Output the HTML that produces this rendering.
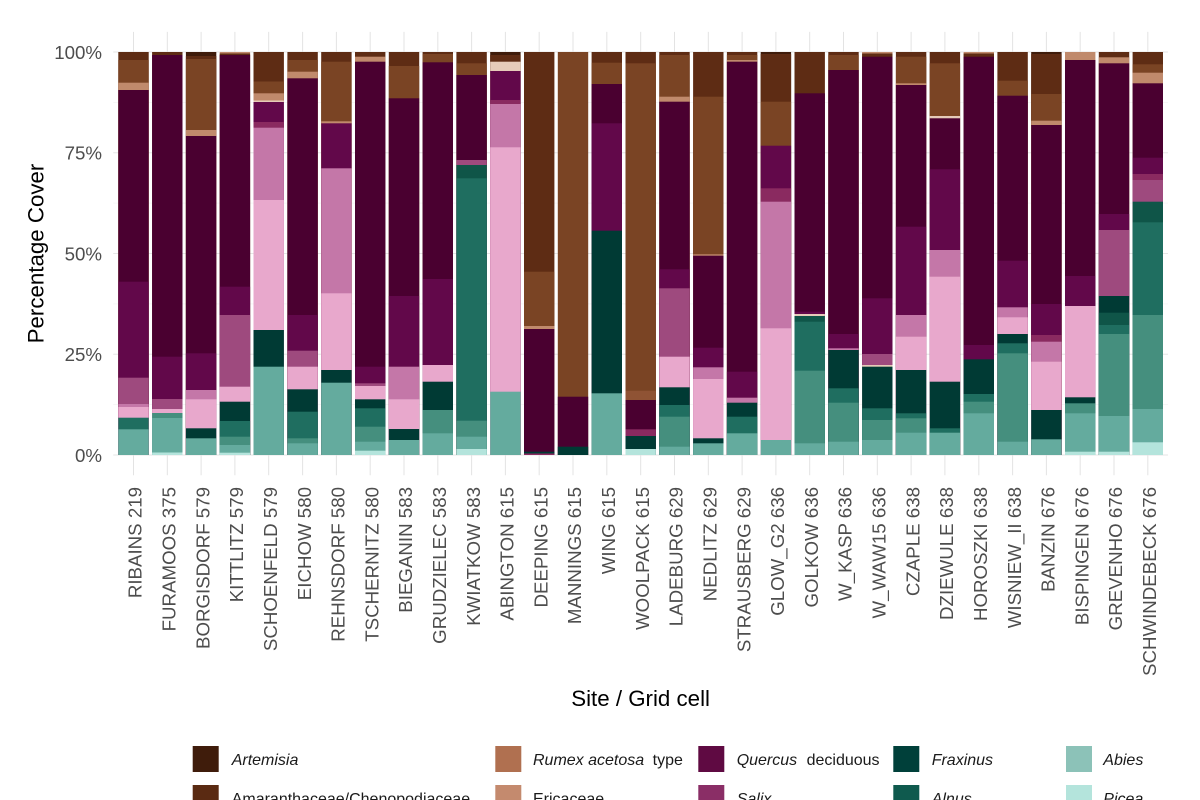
<!DOCTYPE html>
<html>
<head>
<meta charset="utf-8">
<style>
html,body{margin:0;padding:0;background:#fff;width:1200px;height:800px;overflow:hidden;}
svg{display:block;font-family:"Liberation Sans",Arial,sans-serif;}
.a{fill:#3f1c0b}.b{fill:#5e2c14}.c{fill:#7a4424}.d{fill:#8f5334}.e{fill:#c08a6c}.f{fill:#e6cbb9}
.p{fill:#4a0030}.q{fill:#62084a}.s{fill:#8a2a60}.m{fill:#9e4a7e}.k{fill:#c477a8}.l{fill:#e8a8cc}
.t{fill:#003a34}.u{fill:#0f5548}.v{fill:#1f6e60}.w{fill:#458f7e}.x{fill:#64ab9e}.z{fill:#b4e4dc}
.tk{font-size:18.7px;fill:#4d4d4d;}
.ttl{font-size:22.3px;fill:#000;}
.lg{font-size:16px;fill:#1a1a1a;}
.it{font-style:italic;}
</style>
</head>
<body>
<svg width="1200" height="800" viewBox="0 0 1200 800" xmlns="http://www.w3.org/2000/svg">
<defs><clipPath id="pc"><rect x="0" y="52" width="1200" height="403"/></clipPath>
<clipPath id="lc"><rect x="0" y="776" width="1200" height="24"/></clipPath></defs>
<rect x="0" y="0" width="1200" height="800" fill="#fff"/>
<!-- gridlines -->
<g stroke="#e6e6e6" stroke-width="1">
<line x1="113.2" x2="1168" y1="52" y2="52"/><line x1="113.2" x2="1168" y1="152.75" y2="152.75"/><line x1="113.2" x2="1168" y1="253.5" y2="253.5"/><line x1="113.2" x2="1168" y1="354.25" y2="354.25"/><line x1="113.2" x2="1168" y1="455" y2="455"/>
</g>
<g stroke="#f1f1f1" stroke-width="0.6">
<line x1="113.2" x2="1168" y1="102.4" y2="102.4"/><line x1="113.2" x2="1168" y1="203.1" y2="203.1"/><line x1="113.2" x2="1168" y1="303.9" y2="303.9"/><line x1="113.2" x2="1168" y1="404.6" y2="404.6"/>
</g>
<g stroke="#e3e3e3" stroke-width="1">
<line x1="133.5" x2="133.5" y1="31.9" y2="475.2"/><line x1="167.3" x2="167.3" y1="31.9" y2="475.2"/><line x1="201.1" x2="201.1" y1="31.9" y2="475.2"/><line x1="234.9" x2="234.9" y1="31.9" y2="475.2"/><line x1="268.7" x2="268.7" y1="31.9" y2="475.2"/><line x1="302.6" x2="302.6" y1="31.9" y2="475.2"/><line x1="336.4" x2="336.4" y1="31.9" y2="475.2"/><line x1="370.2" x2="370.2" y1="31.9" y2="475.2"/><line x1="404" x2="404" y1="31.9" y2="475.2"/><line x1="437.8" x2="437.8" y1="31.9" y2="475.2"/><line x1="471.6" x2="471.6" y1="31.9" y2="475.2"/><line x1="505.4" x2="505.4" y1="31.9" y2="475.2"/><line x1="539.2" x2="539.2" y1="31.9" y2="475.2"/><line x1="573" x2="573" y1="31.9" y2="475.2"/><line x1="606.8" x2="606.8" y1="31.9" y2="475.2"/><line x1="640.7" x2="640.7" y1="31.9" y2="475.2"/><line x1="674.5" x2="674.5" y1="31.9" y2="475.2"/><line x1="708.3" x2="708.3" y1="31.9" y2="475.2"/><line x1="742.1" x2="742.1" y1="31.9" y2="475.2"/><line x1="775.9" x2="775.9" y1="31.9" y2="475.2"/><line x1="809.7" x2="809.7" y1="31.9" y2="475.2"/><line x1="843.5" x2="843.5" y1="31.9" y2="475.2"/><line x1="877.3" x2="877.3" y1="31.9" y2="475.2"/><line x1="911.1" x2="911.1" y1="31.9" y2="475.2"/><line x1="944.9" x2="944.9" y1="31.9" y2="475.2"/><line x1="978.8" x2="978.8" y1="31.9" y2="475.2"/><line x1="1012.6" x2="1012.6" y1="31.9" y2="475.2"/><line x1="1046.4" x2="1046.4" y1="31.9" y2="475.2"/><line x1="1080.2" x2="1080.2" y1="31.9" y2="475.2"/><line x1="1114" x2="1114" y1="31.9" y2="475.2"/><line x1="1147.8" x2="1147.8" y1="31.9" y2="475.2"/>
</g>

<!-- bars -->
<g clip-path="url(#pc)">
<g transform="translate(118.3 0)"><rect y="52" width="30.4" height="403" class="b"/><rect y="60" width="30.4" height="403" class="c"/><rect y="82.7" width="30.4" height="403" class="e"/><rect y="90" width="30.4" height="403" class="p"/><rect y="281.7" width="30.4" height="403" class="q"/><rect y="377.7" width="30.4" height="403" class="m"/><rect y="404" width="30.4" height="403" class="k"/><rect y="407" width="30.4" height="403" class="l"/><rect y="417.7" width="30.4" height="403" class="v"/><rect y="429.3" width="30.4" height="403" class="x"/></g>
<g transform="translate(152.1 0)"><rect y="52" width="30.4" height="403" class="b"/><rect y="55" width="30.4" height="403" class="p"/><rect y="356.7" width="30.4" height="403" class="q"/><rect y="399" width="30.4" height="403" class="m"/><rect y="409" width="30.4" height="403" class="l"/><rect y="413" width="30.4" height="403" class="w"/><rect y="418" width="30.4" height="403" class="x"/><rect y="452.5" width="30.4" height="403" class="z"/></g>
<g transform="translate(185.9 0)"><rect y="52" width="30.4" height="403" class="a"/><rect y="56" width="30.4" height="403" class="b"/><rect y="59" width="30.4" height="403" class="c"/><rect y="130" width="30.4" height="403" class="e"/><rect y="136" width="30.4" height="403" class="p"/><rect y="353.3" width="30.4" height="403" class="q"/><rect y="390" width="30.4" height="403" class="k"/><rect y="399.3" width="30.4" height="403" class="l"/><rect y="428.3" width="30.4" height="403" class="t"/><rect y="438.3" width="30.4" height="403" class="x"/></g>
<g transform="translate(219.7 0)"><rect y="52" width="30.4" height="403" class="e"/><rect y="53.5" width="30.4" height="403" class="b"/><rect y="55" width="30.4" height="403" class="p"/><rect y="286.7" width="30.4" height="403" class="q"/><rect y="315" width="30.4" height="403" class="m"/><rect y="386.7" width="30.4" height="403" class="l"/><rect y="401.7" width="30.4" height="403" class="t"/><rect y="421" width="30.4" height="403" class="v"/><rect y="436.7" width="30.4" height="403" class="w"/><rect y="445" width="30.4" height="403" class="x"/><rect y="452.7" width="30.4" height="403" class="z"/></g>
<g transform="translate(253.5 0)"><rect y="52" width="30.4" height="403" class="b"/><rect y="81.5" width="30.4" height="403" class="c"/><rect y="93.3" width="30.4" height="403" class="e"/><rect y="100.5" width="30.4" height="403" class="f"/><rect y="102" width="30.4" height="403" class="q"/><rect y="122" width="30.4" height="403" class="s"/><rect y="127.7" width="30.4" height="403" class="k"/><rect y="200" width="30.4" height="403" class="l"/><rect y="330" width="30.4" height="403" class="t"/><rect y="366.7" width="30.4" height="403" class="x"/></g>
<g transform="translate(287.4 0)"><rect y="52" width="30.4" height="403" class="b"/><rect y="60" width="30.4" height="403" class="c"/><rect y="71.7" width="30.4" height="403" class="e"/><rect y="78.3" width="30.4" height="403" class="p"/><rect y="315" width="30.4" height="403" class="q"/><rect y="350.7" width="30.4" height="403" class="m"/><rect y="366.7" width="30.4" height="403" class="l"/><rect y="389.3" width="30.4" height="403" class="t"/><rect y="411.7" width="30.4" height="403" class="v"/><rect y="438.3" width="30.4" height="403" class="w"/><rect y="443.3" width="30.4" height="403" class="x"/></g>
<g transform="translate(321.2 0)"><rect y="52" width="30.4" height="403" class="b"/><rect y="61.7" width="30.4" height="403" class="c"/><rect y="121.3" width="30.4" height="403" class="e"/><rect y="123.3" width="30.4" height="403" class="q"/><rect y="168.3" width="30.4" height="403" class="k"/><rect y="293.3" width="30.4" height="403" class="l"/><rect y="370" width="30.4" height="403" class="t"/><rect y="382.7" width="30.4" height="403" class="x"/></g>
<g transform="translate(355 0)"><rect y="52" width="30.4" height="403" class="b"/><rect y="56.7" width="30.4" height="403" class="e"/><rect y="61.7" width="30.4" height="403" class="p"/><rect y="366.7" width="30.4" height="403" class="q"/><rect y="383.3" width="30.4" height="403" class="m"/><rect y="386" width="30.4" height="403" class="l"/><rect y="399.3" width="30.4" height="403" class="t"/><rect y="408.3" width="30.4" height="403" class="v"/><rect y="426.7" width="30.4" height="403" class="w"/><rect y="441.7" width="30.4" height="403" class="x"/><rect y="450.7" width="30.4" height="403" class="z"/></g>
<g transform="translate(388.8 0)"><rect y="52" width="30.4" height="403" class="b"/><rect y="66" width="30.4" height="403" class="c"/><rect y="98.3" width="30.4" height="403" class="p"/><rect y="296" width="30.4" height="403" class="q"/><rect y="366.7" width="30.4" height="403" class="k"/><rect y="399.3" width="30.4" height="403" class="l"/><rect y="429" width="30.4" height="403" class="t"/><rect y="440" width="30.4" height="403" class="x"/></g>
<g transform="translate(422.6 0)"><rect y="52" width="30.4" height="403" class="b"/><rect y="54" width="30.4" height="403" class="c"/><rect y="62.3" width="30.4" height="403" class="p"/><rect y="279" width="30.4" height="403" class="q"/><rect y="365" width="30.4" height="403" class="l"/><rect y="381.7" width="30.4" height="403" class="t"/><rect y="410" width="30.4" height="403" class="w"/><rect y="433.3" width="30.4" height="403" class="x"/></g>
<g transform="translate(456.4 0)"><rect y="52" width="30.4" height="403" class="b"/><rect y="63.3" width="30.4" height="403" class="c"/><rect y="75" width="30.4" height="403" class="p"/><rect y="160" width="30.4" height="403" class="m"/><rect y="165" width="30.4" height="403" class="u"/><rect y="178.3" width="30.4" height="403" class="v"/><rect y="420.7" width="30.4" height="403" class="w"/><rect y="436.7" width="30.4" height="403" class="x"/><rect y="449" width="30.4" height="403" class="z"/></g>
<g transform="translate(490.2 0)"><rect y="52" width="30.4" height="403" class="a"/><rect y="55" width="30.4" height="403" class="b"/><rect y="61.7" width="30.4" height="403" class="f"/><rect y="71" width="30.4" height="403" class="q"/><rect y="100" width="30.4" height="403" class="s"/><rect y="104" width="30.4" height="403" class="k"/><rect y="147.3" width="30.4" height="403" class="l"/><rect y="391.7" width="30.4" height="403" class="x"/></g>
<g transform="translate(524 0)"><rect y="52" width="30.4" height="403" class="b"/><rect y="271.7" width="30.4" height="403" class="c"/><rect y="326" width="30.4" height="403" class="e"/><rect y="329" width="30.4" height="403" class="p"/><rect y="451.7" width="30.4" height="403" class="t"/><rect y="453.5" width="30.4" height="403" class="s"/></g>
<g transform="translate(557.8 0)"><rect y="52" width="30.4" height="403" class="c"/><rect y="396.7" width="30.4" height="403" class="p"/><rect y="446.7" width="30.4" height="403" class="t"/></g>
<g transform="translate(591.6 0)"><rect y="52" width="30.4" height="403" class="b"/><rect y="62.7" width="30.4" height="403" class="c"/><rect y="84" width="30.4" height="403" class="p"/><rect y="123.3" width="30.4" height="403" class="q"/><rect y="230.7" width="30.4" height="403" class="t"/><rect y="393.3" width="30.4" height="403" class="x"/></g>
<g transform="translate(625.5 0)"><rect y="52" width="30.4" height="403" class="b"/><rect y="63.3" width="30.4" height="403" class="c"/><rect y="390.7" width="30.4" height="403" class="d"/><rect y="400" width="30.4" height="403" class="p"/><rect y="429.3" width="30.4" height="403" class="s"/><rect y="436" width="30.4" height="403" class="t"/><rect y="449" width="30.4" height="403" class="z"/></g>
<g transform="translate(659.3 0)"><rect y="52" width="30.4" height="403" class="b"/><rect y="55" width="30.4" height="403" class="c"/><rect y="96.7" width="30.4" height="403" class="e"/><rect y="101.7" width="30.4" height="403" class="p"/><rect y="269.3" width="30.4" height="403" class="q"/><rect y="288.3" width="30.4" height="403" class="m"/><rect y="356.7" width="30.4" height="403" class="l"/><rect y="387.3" width="30.4" height="403" class="t"/><rect y="405" width="30.4" height="403" class="v"/><rect y="416.7" width="30.4" height="403" class="w"/><rect y="446.7" width="30.4" height="403" class="x"/></g>
<g transform="translate(693.1 0)"><rect y="52" width="30.4" height="403" class="b"/><rect y="96.7" width="30.4" height="403" class="c"/><rect y="254.3" width="30.4" height="403" class="e"/><rect y="255.7" width="30.4" height="403" class="p"/><rect y="347.7" width="30.4" height="403" class="q"/><rect y="367.3" width="30.4" height="403" class="k"/><rect y="379" width="30.4" height="403" class="l"/><rect y="438.3" width="30.4" height="403" class="t"/><rect y="443.3" width="30.4" height="403" class="x"/></g>
<g transform="translate(726.9 0)"><rect y="52" width="30.4" height="403" class="b"/><rect y="55" width="30.4" height="403" class="c"/><rect y="60" width="30.4" height="403" class="e"/><rect y="61.7" width="30.4" height="403" class="p"/><rect y="371.7" width="30.4" height="403" class="q"/><rect y="397.7" width="30.4" height="403" class="k"/><rect y="402.7" width="30.4" height="403" class="t"/><rect y="416.7" width="30.4" height="403" class="v"/><rect y="433.3" width="30.4" height="403" class="x"/></g>
<g transform="translate(760.7 0)"><rect y="52" width="30.4" height="403" class="a"/><rect y="54" width="30.4" height="403" class="b"/><rect y="101.7" width="30.4" height="403" class="c"/><rect y="145.7" width="30.4" height="403" class="q"/><rect y="188.3" width="30.4" height="403" class="s"/><rect y="201.7" width="30.4" height="403" class="k"/><rect y="328.3" width="30.4" height="403" class="l"/><rect y="440" width="30.4" height="403" class="x"/></g>
<g transform="translate(794.5 0)"><rect y="52" width="30.4" height="403" class="b"/><rect y="93.3" width="30.4" height="403" class="p"/><rect y="311.7" width="30.4" height="403" class="q"/><rect y="314" width="30.4" height="403" class="f"/><rect y="316" width="30.4" height="403" class="u"/><rect y="321.7" width="30.4" height="403" class="v"/><rect y="370.7" width="30.4" height="403" class="w"/><rect y="443.3" width="30.4" height="403" class="x"/></g>
<g transform="translate(828.3 0)"><rect y="52" width="30.4" height="403" class="b"/><rect y="55" width="30.4" height="403" class="c"/><rect y="70" width="30.4" height="403" class="p"/><rect y="334" width="30.4" height="403" class="q"/><rect y="348.3" width="30.4" height="403" class="k"/><rect y="350" width="30.4" height="403" class="t"/><rect y="388.3" width="30.4" height="403" class="v"/><rect y="402.7" width="30.4" height="403" class="w"/><rect y="441.7" width="30.4" height="403" class="x"/></g>
<g transform="translate(862.1 0)"><rect y="52" width="30.4" height="403" class="e"/><rect y="53.5" width="30.4" height="403" class="b"/><rect y="56.7" width="30.4" height="403" class="p"/><rect y="298.3" width="30.4" height="403" class="q"/><rect y="354" width="30.4" height="403" class="m"/><rect y="365" width="30.4" height="403" class="f"/><rect y="366.7" width="30.4" height="403" class="t"/><rect y="408.3" width="30.4" height="403" class="v"/><rect y="420" width="30.4" height="403" class="w"/><rect y="440" width="30.4" height="403" class="x"/></g>
<g transform="translate(895.9 0)"><rect y="52" width="30.4" height="403" class="b"/><rect y="56.7" width="30.4" height="403" class="c"/><rect y="83.3" width="30.4" height="403" class="e"/><rect y="85" width="30.4" height="403" class="p"/><rect y="226.7" width="30.4" height="403" class="q"/><rect y="315" width="30.4" height="403" class="k"/><rect y="336.7" width="30.4" height="403" class="l"/><rect y="370" width="30.4" height="403" class="t"/><rect y="413.3" width="30.4" height="403" class="v"/><rect y="418.3" width="30.4" height="403" class="w"/><rect y="432.7" width="30.4" height="403" class="x"/></g>
<g transform="translate(929.7 0)"><rect y="52" width="30.4" height="403" class="b"/><rect y="63.3" width="30.4" height="403" class="c"/><rect y="116" width="30.4" height="403" class="f"/><rect y="118.3" width="30.4" height="403" class="p"/><rect y="169.3" width="30.4" height="403" class="q"/><rect y="250" width="30.4" height="403" class="k"/><rect y="276.7" width="30.4" height="403" class="l"/><rect y="381.7" width="30.4" height="403" class="t"/><rect y="428.3" width="30.4" height="403" class="v"/><rect y="432.7" width="30.4" height="403" class="x"/></g>
<g transform="translate(963.6 0)"><rect y="52" width="30.4" height="403" class="e"/><rect y="53.5" width="30.4" height="403" class="b"/><rect y="56.7" width="30.4" height="403" class="p"/><rect y="345" width="30.4" height="403" class="q"/><rect y="359.3" width="30.4" height="403" class="t"/><rect y="394" width="30.4" height="403" class="v"/><rect y="401.7" width="30.4" height="403" class="w"/><rect y="413.3" width="30.4" height="403" class="x"/></g>
<g transform="translate(997.4 0)"><rect y="52" width="30.4" height="403" class="b"/><rect y="80.7" width="30.4" height="403" class="c"/><rect y="95.7" width="30.4" height="403" class="p"/><rect y="260.7" width="30.4" height="403" class="q"/><rect y="307.3" width="30.4" height="403" class="k"/><rect y="317.3" width="30.4" height="403" class="l"/><rect y="334" width="30.4" height="403" class="t"/><rect y="343.3" width="30.4" height="403" class="v"/><rect y="353.3" width="30.4" height="403" class="w"/><rect y="441.7" width="30.4" height="403" class="x"/></g>
<g transform="translate(1031.2 0)"><rect y="52" width="30.4" height="403" class="a"/><rect y="54" width="30.4" height="403" class="b"/><rect y="94" width="30.4" height="403" class="c"/><rect y="120.7" width="30.4" height="403" class="e"/><rect y="125" width="30.4" height="403" class="p"/><rect y="304" width="30.4" height="403" class="q"/><rect y="335" width="30.4" height="403" class="s"/><rect y="341.7" width="30.4" height="403" class="k"/><rect y="361.7" width="30.4" height="403" class="l"/><rect y="410" width="30.4" height="403" class="t"/><rect y="439.3" width="30.4" height="403" class="x"/></g>
<g transform="translate(1065 0)"><rect y="52" width="30.4" height="403" class="e"/><rect y="60" width="30.4" height="403" class="p"/><rect y="276" width="30.4" height="403" class="q"/><rect y="306" width="30.4" height="403" class="l"/><rect y="397.3" width="30.4" height="403" class="t"/><rect y="403.3" width="30.4" height="403" class="w"/><rect y="413.3" width="30.4" height="403" class="x"/><rect y="451.7" width="30.4" height="403" class="z"/></g>
<g transform="translate(1098.8 0)"><rect y="52" width="30.4" height="403" class="b"/><rect y="57.3" width="30.4" height="403" class="e"/><rect y="63.3" width="30.4" height="403" class="p"/><rect y="214" width="30.4" height="403" class="q"/><rect y="230" width="30.4" height="403" class="m"/><rect y="296" width="30.4" height="403" class="t"/><rect y="312.7" width="30.4" height="403" class="u"/><rect y="325" width="30.4" height="403" class="v"/><rect y="334" width="30.4" height="403" class="w"/><rect y="416" width="30.4" height="403" class="x"/><rect y="451.7" width="30.4" height="403" class="z"/></g>
<g transform="translate(1132.6 0)"><rect y="52" width="30.4" height="403" class="b"/><rect y="64.3" width="30.4" height="403" class="c"/><rect y="72.7" width="30.4" height="403" class="e"/><rect y="83.3" width="30.4" height="403" class="p"/><rect y="157.7" width="30.4" height="403" class="q"/><rect y="174" width="30.4" height="403" class="s"/><rect y="180" width="30.4" height="403" class="m"/><rect y="201.7" width="30.4" height="403" class="u"/><rect y="222.3" width="30.4" height="403" class="v"/><rect y="315" width="30.4" height="403" class="w"/><rect y="409" width="30.4" height="403" class="x"/><rect y="442.3" width="30.4" height="403" class="z"/></g>
</g>

<!-- y ticks -->
<g class="tk" text-anchor="end">
<text x="102" y="59">100%</text>
<text x="102" y="159.7">75%</text>
<text x="102" y="260.5">50%</text>
<text x="102" y="361.2">25%</text>
<text x="102" y="462">0%</text>
</g>
<text class="ttl" text-anchor="middle" transform="translate(43.3 253.5) rotate(-90)">Percentage Cover</text>

<!-- x ticks -->
<g class="tk" text-anchor="end">
<text transform="translate(141.7 487) rotate(-90)">RIBAINS 219</text>
<text transform="translate(175.5 487) rotate(-90)">FURAMOOS 375</text>
<text transform="translate(209.3 487) rotate(-90)">BORGISDORF 579</text>
<text transform="translate(243.1 487) rotate(-90)">KITTLITZ 579</text>
<text transform="translate(276.9 487) rotate(-90)">SCHOENFELD 579</text>
<text transform="translate(310.8 487) rotate(-90)">EICHOW 580</text>
<text transform="translate(344.6 487) rotate(-90)">REHNSDORF 580</text>
<text transform="translate(378.4 487) rotate(-90)">TSCHERNITZ 580</text>
<text transform="translate(412.2 487) rotate(-90)">BIEGANIN 583</text>
<text transform="translate(446 487) rotate(-90)">GRUDZIELEC 583</text>
<text transform="translate(479.8 487) rotate(-90)">KWIATKOW 583</text>
<text transform="translate(513.6 487) rotate(-90)">ABINGTON 615</text>
<text transform="translate(547.4 487) rotate(-90)">DEEPING 615</text>
<text transform="translate(581.2 487) rotate(-90)">MANNINGS 615</text>
<text transform="translate(615 487) rotate(-90)">WING 615</text>
<text transform="translate(648.9 487) rotate(-90)">WOOLPACK 615</text>
<text transform="translate(682.7 487) rotate(-90)">LADEBURG 629</text>
<text transform="translate(716.5 487) rotate(-90)">NEDLITZ 629</text>
<text transform="translate(750.3 487) rotate(-90)">STRAUSBERG 629</text>
<text transform="translate(784.1 487) rotate(-90)">GLOW_G2 636</text>
<text transform="translate(817.9 487) rotate(-90)">GOLKOW 636</text>
<text transform="translate(851.7 487) rotate(-90)">W_KASP 636</text>
<text transform="translate(885.5 487) rotate(-90)">W_WAW15 636</text>
<text transform="translate(919.3 487) rotate(-90)">CZAPLE 638</text>
<text transform="translate(953.1 487) rotate(-90)">DZIEWULE 638</text>
<text transform="translate(987 487) rotate(-90)">HOROSZKI 638</text>
<text transform="translate(1020.8 487) rotate(-90)">WISNIEW_II 638</text>
<text transform="translate(1054.6 487) rotate(-90)">BANZIN 676</text>
<text transform="translate(1088.4 487) rotate(-90)">BISPINGEN 676</text>
<text transform="translate(1122.2 487) rotate(-90)">GREVENHO 676</text>
<text transform="translate(1156 487) rotate(-90)">SCHWINDEBECK 676</text>
</g>
<text class="ttl" x="640.6" y="706" text-anchor="middle">Site / Grid cell</text>

<!-- legend -->
<g>
<rect x="192.7" y="746" width="26" height="26" fill="#3f1c0b"/>
<rect x="192.7" y="785" width="26" height="15" fill="#5a2a12"/>
<rect x="495.3" y="746" width="26" height="26" fill="#b07050"/>
<rect x="495.3" y="785" width="26" height="15" fill="#c48a6e"/>
<rect x="698.3" y="746" width="26" height="26" fill="#5f0a42"/>
<rect x="698.3" y="785" width="26" height="15" fill="#8a2e66"/>
<rect x="893.3" y="746" width="26" height="26" fill="#00403a"/>
<rect x="893.3" y="785" width="26" height="15" fill="#0f5a4e"/>
<rect x="1066" y="746" width="26" height="26" fill="#8cc2b8"/>
<rect x="1066" y="785" width="26" height="15" fill="#b4e4dc"/>
</g>
<g class="lg">
<text x="231.7" y="765" class="it">Artemisia</text>
<text x="533" y="765"><tspan class="it">Rumex acetosa</tspan><tspan dx="4"> type</tspan></text>
<text x="736.7" y="765"><tspan class="it">Quercus</tspan><tspan dx="5"> deciduous</tspan></text>
<text x="931.7" y="765" class="it">Fraxinus</text>
<text x="1103.3" y="765" class="it">Abies</text>
</g>
<g class="lg" clip-path="url(#lc)">
<text x="231.7" y="804">Amaranthaceae/Chenopodiaceae</text>
<text x="533" y="804">Ericaceae</text>
<text x="736.7" y="804" class="it">Salix</text>
<text x="931.7" y="804" class="it">Alnus</text>
<text x="1103.3" y="804" class="it">Picea</text>
</g>
</svg>
</body>
</html>
